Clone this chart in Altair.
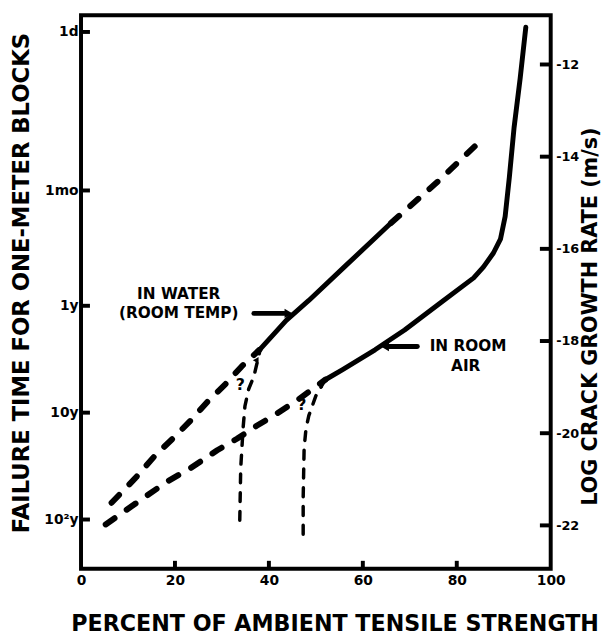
import math
import altair as alt
import pandas as pd

W, H = 476, 561
FONT = "DejaVu Sans"

# ---------------- axes ----------------
X_DOMAIN = [0, 100]
X_TICKS = [0, 20, 40, 60, 80, 100]
X_INNER_TICKS = [20, 40, 60, 80]

R_DOMAIN = [-22.94, -10.93]          # log crack growth rate (m/s)
R_TICKS = [-12, -14, -16, -18, -20, -22]

LEFT_LABELS = ["1d", "1mo", "1y", "10y", "10²y"]
LEFT_DAYS = [1, 30.44, 365.25, 3652.5, 36525]
LEFT_DOMAIN = [-0.157, 5.023]        # log10(days), top -> bottom
LEFT_LOG = [math.log10(v) for v in LEFT_DAYS]

# ---------------- curves (x = % strength, r = log crack growth rate) ----------------
water_lo_x = [6.5, 11.6, 15.8, 19.5, 23.1, 26.9, 30.7, 34.2, 38.0]
water_lo_r = [-21.51, -20.97, -20.48, -20.12, -19.75, -19.32, -18.94, -18.55, -18.19]
water_mid_x = [38.0, 43.7, 48.5, 56.3, 66.0]
water_mid_r = [-18.19, -17.55, -17.12, -16.37, -15.44]
water_hi_x = [66.0, 76.3, 84.0]
water_hi_r = [-15.44, -14.51, -13.76]

air_lo_x = [5.25, 12.8, 18.5, 23.3, 29.0, 33.2, 37.4, 41.6, 46.4, 52.0]
air_lo_r = [-21.98, -21.44, -21.04, -20.76, -20.37, -20.12, -19.84, -19.58, -19.26, -18.84]
air_hi_x = [52.0, 55.7, 62.6, 68.9, 76.7, 83.6, 85.7, 87.8, 89.3, 90.3, 91.2, 92.2, 93.5, 94.7]
air_hi_r = [-18.84, -18.62, -18.19, -17.76, -17.16, -16.63, -16.39, -16.09, -15.79, -15.30,
            -14.44, -13.37, -12.30, -11.19]

water_thr_x = [33.8, 34.0, 34.5, 34.9, 35.7, 36.8, 38.0]
water_thr_r = [-21.89, -20.76, -19.90, -19.41, -19.04, -18.77, -18.25]
air_thr_x = [47.3, 47.3, 47.5, 47.9, 48.5, 50.0, 52.0]
air_thr_r = [-22.19, -21.40, -20.33, -19.90, -19.62, -19.19, -18.84]

# arrowheads at the top of the two threshold curves
thr_head_x = [37.5, 51.2]
thr_head_r = [-18.40, -18.93]

# ---------------- annotations ----------------
label_text = ["IN WATER", "(ROOM TEMP)", "IN ROOM", "AIR"]
label_x = [20.8, 20.8, 82.4, 81.9]
label_r = [-16.98, -17.40, -18.12, -18.55]

q_text = ["?", "?"]
q_x = [33.9, 47.0]
q_r = [-18.96, -19.40]

arrow_x = [36.8, 71.6]
arrow_x2 = [43.3, 65.6]
arrow_r = [-17.40, -18.12]
head_right_x, head_right_r = [44.2], [-17.40]
head_left_x, head_left_r = [64.7], [-18.12]


def seg(name, xs, rs):
    return pd.DataFrame({"x": xs, "r": rs, "seg": name, "i": list(range(len(xs)))})


thick_dash = pd.concat([seg("wl", water_lo_x, water_lo_r), seg("wh", water_hi_x, water_hi_r),
                        seg("al", air_lo_x, air_lo_r)])
solid = pd.concat([seg("wm", water_mid_x, water_mid_r), seg("ah", air_hi_x, air_hi_r)])
thin_dash = pd.concat([seg("wt", water_thr_x, water_thr_r), seg("at", air_thr_x, air_thr_r)])

XS = alt.Scale(domain=X_DOMAIN, nice=False, zero=False)
X_AXIS = alt.Axis(values=X_TICKS, title="PERCENT OF AMBIENT TENSILE STRENGTH", ticks=False,
                  domain=False, grid=False, labelFont=FONT, labelFontWeight="bold",
                  labelFontSize=14, labelColor="black", labelPadding=5, labelFlush=False,
                  titleFont=FONT, titleFontWeight="bold", titleFontSize=22.5, titleColor="black",
                  titleX=257, titleY=56, titleAlign="center", titleBaseline="middle")
XENC = alt.X("x:Q", scale=XS, axis=X_AXIS)

mid = [(LEFT_LOG[k] + LEFT_LOG[k + 1]) / 2 for k in range(len(LEFT_LOG) - 1)]
expr = "'" + LEFT_LABELS[-1] + "'"
for k in range(len(mid) - 1, -1, -1):
    expr = f"datum.value < {mid[k]:.4f} ? '{LEFT_LABELS[k]}' : ({expr})"

YL = alt.Y("d:Q", scale=alt.Scale(domain=LEFT_DOMAIN, reverse=True, nice=False, zero=False),
           axis=alt.Axis(orient="left", values=LEFT_LOG, labelExpr=expr,
                         title="FAILURE TIME FOR ONE-METER BLOCKS", ticks=False, domain=False,
                         grid=False, labelFont=FONT, labelFontWeight="bold", labelFontSize=14,
                         labelColor="black", labelPadding=3, labelBaseline="middle",
                         titleFont=FONT, titleFontWeight="bold", titleFontSize=23,
                         titleColor="black", titleAngle=270, titleX=-60, titleY=271,
                         titleAlign="center", titleBaseline="middle"))

YR = alt.Y("r:Q", scale=alt.Scale(domain=R_DOMAIN, nice=False, zero=False),
           axis=alt.Axis(orient="right", values=R_TICKS, title="LOG CRACK GROWTH RATE (m/s)",
                         labelExpr="'-' + format(abs(datum.value), 'd')",
                         ticks=False, domain=False, grid=False, labelFont=FONT,
                         labelFontWeight="bold", labelFontSize=13, labelColor="black",
                         labelPadding=5, labelBaseline="middle",
                         titleFont=FONT, titleFontWeight="bold", titleFontSize=21,
                         titleColor="black", titleAngle=270, titleX=40, titleY=305,
                         titleAlign="center", titleBaseline="middle"))

# ----- left group (failure time scale) -----
left_df = pd.DataFrame({"d": LEFT_LOG})
left_ticks = alt.Chart(left_df).mark_rule(color="black", strokeWidth=4).encode(
    y=YL, x=alt.datum(0), x2=alt.datum(1.9))
left_group = alt.layer(left_ticks)

# ----- right group (crack growth rate) -----
l_thick = alt.Chart(thick_dash).mark_line(color="black", strokeWidth=6, strokeDash=[11, 15],
                                          strokeCap="round", strokeJoin="round").encode(
    x=XENC, y=YR, detail="seg:N", order="i:Q")
l_solid = alt.Chart(solid).mark_line(color="black", strokeWidth=5, strokeCap="round",
                                     strokeJoin="round").encode(
    x=XENC, y=YR, detail="seg:N", order="i:Q")
l_thin = alt.Chart(thin_dash).mark_line(color="black", strokeWidth=3.5, strokeDash=[9, 10],
                                        strokeCap="round", strokeJoin="round").encode(
    x=XENC, y=YR, detail="seg:N", order="i:Q")
thr_heads = alt.Chart(pd.DataFrame({"x": thr_head_x, "r": thr_head_r})).mark_point(
    shape="triangle-up", angle=30, filled=True, color="black", size=45, opacity=1).encode(
    x=XENC, y=YR)

r_ticks = alt.Chart(pd.DataFrame({"r": R_TICKS})).mark_rule(color="black", strokeWidth=4).encode(
    y=YR, x=alt.datum(100), x2=alt.datum(97.7))
b_ticks = alt.Chart(pd.DataFrame({"x": X_INNER_TICKS})).mark_rule(color="black", strokeWidth=4).encode(
    x=XENC, y=alt.value(H), y2=alt.value(H - 8))

labels = alt.Chart(pd.DataFrame({"t": label_text, "x": label_x, "r": label_r})).mark_text(
    font=FONT, fontWeight="bold", fontSize=15.5, color="black", align="center",
    baseline="middle").encode(x=XENC, y=YR, text="t:N")
qmarks = alt.Chart(pd.DataFrame({"t": q_text, "x": q_x, "r": q_r})).mark_text(
    font=FONT, fontWeight="bold", fontSize=16, color="black", align="center",
    baseline="middle").encode(x=XENC, y=YR, text="t:N")

arrows = alt.Chart(pd.DataFrame({"x": arrow_x, "x2": arrow_x2, "r": arrow_r})).mark_rule(
    color="black", strokeWidth=5, strokeCap="round").encode(x=XENC, x2="x2:Q", y=YR)
head_r = alt.Chart(pd.DataFrame({"x": head_right_x, "r": head_right_r})).mark_point(
    shape="triangle-right", filled=True, color="black", size=90, opacity=1).encode(x=XENC, y=YR)
head_l = alt.Chart(pd.DataFrame({"x": head_left_x, "r": head_left_r})).mark_point(
    shape="triangle-left", filled=True, color="black", size=90, opacity=1).encode(x=XENC, y=YR)

right_group = alt.layer(l_thick, l_solid, l_thin, thr_heads, r_ticks, b_ticks, labels, qmarks,
                        arrows, head_r, head_l)

chart = alt.layer(left_group, right_group).resolve_scale(y="independent").properties(
    width=W, height=H,
    autosize=alt.AutoSizeParams(type="none"),
    padding={"left": 74, "top": 3, "right": 53, "bottom": 70},
    background="white",
).configure_view(stroke="black", strokeWidth=4)

chart.save("out.html", embed_options={"renderer": "svg", "actions": False})
